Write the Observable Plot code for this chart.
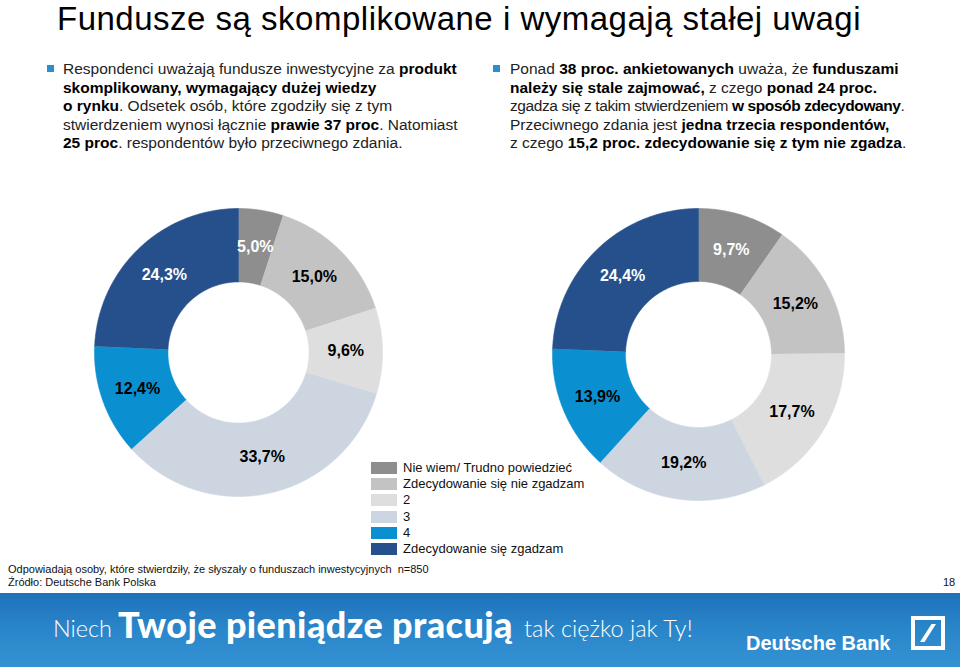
<!DOCTYPE html>
<html>
<head>
<meta charset="utf-8">
<script src="https://cdn.jsdelivr.net/npm/d3@7"></script>
<script src="https://cdn.jsdelivr.net/npm/@observablehq/plot@0.6"></script>
<style>
  html, body { margin: 0; padding: 0; background: #fff; }
  #page { position: relative; width: 960px; height: 667px; overflow: hidden; font-family: "Liberation Sans", Arial, sans-serif; color: #222; }
  .abs { position: absolute; }
  #title { left: 57px; top: 0px; font-size: 33px; line-height: 37px; letter-spacing: 0.5px; color: #000; white-space: nowrap; }
  .para { font-size: 15.5px; line-height: 18.5px; white-space: nowrap; color: #222; }
  .para b { color: #000; }
  .bullet { width: 7px; height: 7px; background: #2a8fd0; }
  #legend { left: 371px; top: 460px; font-size: 13px; color: #111; }
  .lrow { position: relative; height: 16.2px; line-height: 16.2px; white-space: nowrap; }
  .lsw { position: absolute; left: 0; top: 2px; width: 26px; height: 12px; }
  .ltx { position: absolute; left: 32px; top: 0; }
  .foot { font-family: "Liberation Sans Narrow", "Liberation Sans", Arial, sans-serif; font-size: 11px; line-height: 11px; color: #111; white-space: nowrap; }
  #banner { left: 0; top: 593px; width: 960px; height: 74px; background: linear-gradient(to bottom, #1f72ba 0%, #2a86ca 50%, #3592d2 100%); }
  .bt { position: absolute; color: #fff; white-space: nowrap; font-family: Lato, "Open Sans", sans-serif; }
</style>
</head>
<body>
<div id="page">
  <div id="title" class="abs">Fundusze są skomplikowane i wymagają stałej uwagi</div>

  <div class="abs bullet" style="left:47px; top:65px;"></div>
  <div class="abs para" style="left:63px; top:60px;">Respondenci uważają fundusze inwestycyjne za <b>produkt</b><br><b>skomplikowany, wymagający dużej wiedzy</b><br><b>o rynku</b>. Odsetek osób, które zgodziły się z tym<br>stwierdzeniem wynosi łącznie <b>prawie 37 proc</b>. Natomiast<br><b>25 proc</b>. respondentów było przeciwnego zdania.</div>

  <div class="abs bullet" style="left:493px; top:65px;"></div>
  <div class="abs para" style="left:510px; top:60px;">Ponad <b>38 proc. ankietowanych</b> uważa, że <b>funduszami</b><br><b>należy się stale zajmować,</b> z czego <b>ponad 24 proc.</b><br><span style="letter-spacing:-0.4px">zgadza się z takim stwierdzeniem <b>w sposób zdecydowany</b>.</span><br>Przeciwnego zdania jest <b>jedna trzecia respondentów,</b><br>z czego <b>15,2 proc. zdecydowanie się z tym nie zgadza</b>.</div>

  <div id="donutL" class="abs" style="left:88px; top:202px;"></div>
  <div id="donutR" class="abs" style="left:548px; top:204px;"></div>

  <div id="legend" class="abs"></div>

  <div class="abs foot" style="left:8px; top:564px;">Odpowiadają osoby, które stwierdziły, że słyszały o funduszach inwestycyjnych&nbsp; n=850</div>
  <div class="abs foot" style="left:8px; top:577px;">Źródło: Deutsche Bank Polska</div>
  <div class="abs foot" style="left:943px; top:577px;">18</div>

  <div id="banner" class="abs">
    <div class="bt" style="left:53px; top:24px; font-size:23.5px; line-height:23.5px; font-weight:300;">Niech</div>
    <div class="bt" style="left:118px; top:13px; font-size:36px; line-height:36px; font-weight:900; letter-spacing:0.4px;">Twoje pieniądze pracują</div>
    <div class="bt" style="left:524px; top:24px; font-size:23.5px; line-height:23.5px; font-weight:300;">tak ciężko jak Ty!</div>
    <div class="abs" style="left:746px; top:39px; color:#fff; font-weight:bold; font-size:20px; white-space:nowrap;">Deutsche Bank</div>
    <svg class="abs" style="left:911px; top:23px;" width="34" height="34" viewBox="0 0 34 34">
      <rect x="2" y="2" width="30" height="30" fill="none" stroke="#fff" stroke-width="4"/>
      <polygon points="9,26 13.5,26 25,8 20.5,8" fill="#fff"/>
    </svg>
  </div>
</div>

<script>
// ---- data ----
const categories = ["Nie wiem/ Trudno powiedzieć", "Zdecydowanie się nie zgadzam", "2", "3", "4", "Zdecydowanie się zgadzam"];
const colors = ["#8e8e8e", "#c3c3c3", "#dedede", "#cdd6e0", "#0a8fd0", "#25508b"];
const leftValues = [5.0, 15.0, 9.6, 33.7, 12.4, 24.3];
const rightValues = [9.7, 15.2, 17.7, 19.2, 13.9, 24.4];
const whiteLabelCategories = ["Nie wiem/ Trudno powiedzieć", "Zdecydowanie się zgadzam"];

const fmt = v => v.toFixed(1).replace(".", ",") + "%";

function donut(values, outerPx, innerRatio) {
  const total = d3.sum(values);
  const rows = [];
  const labels = [];
  let cum = 0;
  values.forEach((v, i) => {
    const a0 = cum / total * 2 * Math.PI;
    cum += v;
    const a1 = cum / total * 2 * Math.PI;
    const n = Math.max(2, Math.ceil((a1 - a0) / (Math.PI / 360)));
    for (let j = 0; j <= n; j++) {
      const a = a0 + (a1 - a0) * j / n;
      rows.push({cat: categories[i], x: Math.sin(a), y: Math.cos(a)});
    }
    for (let j = n; j >= 0; j--) {
      const a = a0 + (a1 - a0) * j / n;
      rows.push({cat: categories[i], x: innerRatio * Math.sin(a), y: innerRatio * Math.cos(a)});
    }
    const am = (a0 + a1) / 2, rm = (1 + innerRatio) / 2;
    labels.push({cat: categories[i], x: rm * Math.sin(am), y: rm * Math.cos(am), text: fmt(v), white: whiteLabelCategories.includes(categories[i])});
  });
  const size = 300;
  const R = (size / 2) / outerPx;
  return Plot.plot({
    width: size, height: size, margin: 0,
    style: {fontFamily: "'Liberation Sans', Arial, sans-serif", background: "transparent"},
    x: {domain: [-R, R], axis: null},
    y: {domain: [-R, R], axis: null},
    color: {domain: categories, range: colors},
    marks: [
      Plot.line(rows, {x: "x", y: "y", z: "cat", fill: "cat", stroke: "cat", strokeWidth: 0.6, curve: "linear"}),
      Plot.text(labels, {filter: d => d.white, x: "x", y: "y", text: "text", fill: "white", fontWeight: "bold", fontSize: 16}),
      Plot.text(labels, {filter: d => !d.white, x: "x", y: "y", text: "text", fill: "black", fontWeight: "bold", fontSize: 16})
    ]
  });
}

document.getElementById("donutL").appendChild(donut(leftValues, 144, 0.49));
document.getElementById("donutR").appendChild(donut(rightValues, 146, 0.5));

const legend = document.getElementById("legend");
categories.forEach((c, i) => {
  const row = document.createElement("div");
  row.className = "lrow";
  row.innerHTML = `<span class="lsw" style="background:${colors[i]}"></span><span class="ltx">${c}</span>`;
  legend.appendChild(row);
});
</script>
</body>
</html>
